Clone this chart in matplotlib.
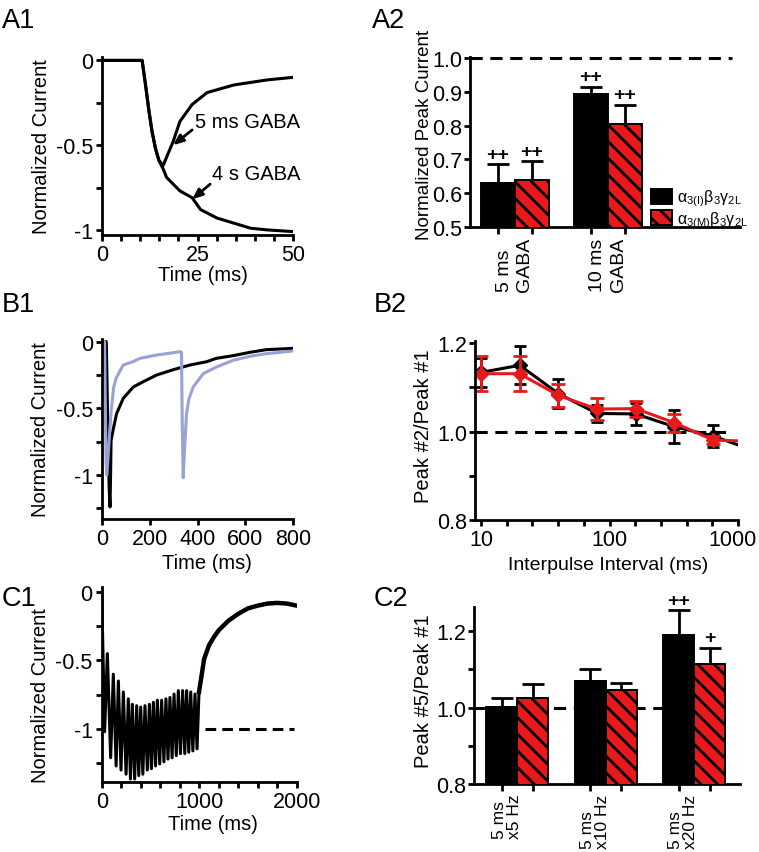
import matplotlib.pyplot as plt
from matplotlib.ticker import FixedLocator, NullFormatter, FixedFormatter
import matplotlib.transforms as mtransforms

plt.rcParams['font.family'] = ['Liberation Sans', 'DejaVu Sans']
plt.rcParams['axes.unicode_minus'] = False
plt.rcParams['mathtext.default'] = 'regular'
plt.rcParams['hatch.linewidth'] = 2.0
plt.rcParams['hatch.color'] = 'black'

# ── Data ─────────────────────────────────────────────────────────────────────
# A1: normalized current traces (ms, current)
a1_t_4s = [0, 10.5, 11.4, 12.3, 13.1, 14.0, 14.9, 16.0, 16.9, 20.4, 23.6, 25.8,
           30.1, 34.5, 38.9, 43.3, 50]
a1_i_4s = [0, 0, -0.145, -0.30, -0.42, -0.52, -0.59, -0.64, -0.69, -0.77, -0.81,
           -0.88, -0.93, -0.96, -0.99, -1.0, -1.01]
a1_t_5ms = [0, 10.5, 11.4, 12.3, 13.1, 14.0, 14.9, 16.0, 18.6, 20.4, 23.6, 27.5,
            34.5, 43.3, 50]
a1_i_5ms = [0, 0, -0.145, -0.30, -0.42, -0.52, -0.59, -0.62, -0.48, -0.36, -0.26,
            -0.19, -0.145, -0.115, -0.10]

# A2: normalized peak current
a2_groups = ['5 ms\nGABA', '10 ms\nGABA']
a2_i = [0.63, 0.895]
a2_i_err = [0.055, 0.02]
a2_m = [0.64, 0.805]
a2_m_err = [0.055, 0.057]
a2_i_sig = ['++', '++']
a2_m_sig = ['++', '++']

# B1: paired-pulse traces
b1_t_black = [0, 18, 24, 30, 33.5, 36, 38, 49, 61, 89, 131, 173, 229, 299, 369,
              439, 479, 549, 619, 688, 800]
b1_i_black = [0, 0, -0.6, -1.1, -1.24, -1.0, -0.74, -0.64, -0.54, -0.425, -0.34,
              -0.30, -0.25, -0.21, -0.175, -0.15, -0.125, -0.105, -0.08, -0.06, -0.05]
b1_t_blue = [0, 11, 14, 17, 20, 26, 32, 38, 49, 60, 89, 130, 159, 229, 290, 326,
             333, 336, 340, 346, 354, 364, 382, 424, 479, 549, 619, 688, 800]
b1_i_blue = [0, 0, -0.5, -0.9, -1.0, -0.85, -0.68, -0.53, -0.34, -0.27, -0.175,
             -0.15, -0.125, -0.10, -0.085, -0.075, -0.08, -0.6, -1.02, -0.8, -0.54,
             -0.43, -0.34, -0.24, -0.19, -0.14, -0.11, -0.09, -0.07]

# B2: paired-pulse ratio vs interpulse interval
b2_ipi = [10, 20, 40, 80, 160, 320, 640]
b2_i = [1.134, 1.15, 1.086, 1.041, 1.04, 1.011, 0.99]
b2_i_err = [0.033, 0.043, 0.032, 0.02, 0.024, 0.037, 0.025]
b2_m = [1.131, 1.131, 1.082, 1.051, 1.052, 1.02, 0.981]
b2_m_err = [0.04, 0.039, 0.026, 0.025, 0.018, 0.02, 0.01]
b2_end_ipi = 1000
b2_i_end = 0.97
b2_m_end = 0.979

# C1: pulse-train trace
c1_peak_t = [58, 119, 171, 222, 273, 314, 359, 400, 444, 489, 530, 571, 615, 659,
             700, 742, 786, 830, 871, 913, 957, 998]
c1_peak = [-0.45, -0.60, -0.65, -0.73, -0.78, -0.82, -0.83, -0.84, -0.83, -0.82,
           -0.805, -0.79, -0.79, -0.78, -0.77, -0.745, -0.72, -0.72, -0.72, -0.73,
           -0.745, -0.73]
c1_trough_t = [30, 92, 148, 198, 250, 295, 338, 380, 422, 468, 510, 552, 595, 638,
               680, 722, 765, 808, 852, 893, 935, 978]
c1_trough = [-1.02, -1.21, -1.27, -1.30, -1.33, -1.365, -1.365, -1.34, -1.33, -1.30,
             -1.29, -1.27, -1.255, -1.24, -1.22, -1.21, -1.195, -1.18, -1.18, -1.17,
             -1.16, -1.145]
c1_tail_t = [1030, 1050, 1100, 1150, 1200, 1300, 1400, 1500, 1600, 1700, 1800,
             1900, 2000]
c1_tail = [-0.585, -0.49, -0.39, -0.33, -0.28, -0.21, -0.16, -0.12, -0.10, -0.085,
           -0.08, -0.085, -0.10]
c1_ref = -1.0
c1_ref_span = [1062, 1969]

# C2: peak #5 / peak #1
c2_groups = ['5 ms\nx5 Hz', '5 ms\nx10 Hz', '5 ms\nx20 Hz']
c2_i = [1.002, 1.07, 1.19]
c2_i_err = [0.022, 0.032, 0.064]
c2_m = [1.026, 1.045, 1.115]
c2_m_err = [0.035, 0.02, 0.042]
c2_i_sig = ['', '', '++']
c2_m_sig = ['', '', '+']

RED = '#e8191b'
BLUE = '#98a2d6'
FIG_W, FIG_H = 759, 853
LW = 2.0
TICK_FS = 15.5
LABEL_FS = 14.5


def add_ax(fig, left, top, right, bottom):
    """Axes from pixel box (left, top, right, bottom)."""
    return fig.add_axes([left / FIG_W, 1 - bottom / FIG_H,
                         (right - left) / FIG_W, (bottom - top) / FIG_H])


def style(ax):
    for s in ('top', 'right'):
        ax.spines[s].set_visible(False)
    for s in ('left', 'bottom'):
        ax.spines[s].set_linewidth(LW)
    ax.tick_params(which='both', direction='out', length=4.5, width=LW,
                   labelsize=TICK_FS, pad=2)


def panel_label(fig, x, y, s):
    fig.text(x / FIG_W, 1 - y / FIG_H, s, fontsize=19.5, va='top', ha='left')


def bar_panel(ax, groups, vi, ei, vm, em, si, sm, spacing, lab_shift, linesp, lab_fs):
    gx = [k * spacing for k in range(len(groups))]
    xi = [g - 0.5 for g in gx]
    xm = [g + 0.5 for g in gx]
    ax.bar(xi, vi, width=1.0, color='black', edgecolor='black', lw=1.4,
           label=r'α$_{3(I)}$β$_3$γ$_{2L}$', zorder=3)
    ax.bar(xm, vm, width=1.0, color=RED, edgecolor='black', lw=1.4,
           hatch='\\\\', label=r'α$_{3(M)}$β$_3$γ$_{2L}$', zorder=3)
    ax.errorbar(xi, vi, yerr=[[0] * len(vi), ei], fmt='none', ecolor='black',
                elinewidth=LW, capsize=8, capthick=LW, zorder=2)
    ax.errorbar(xm, vm, yerr=[[0] * len(vm), em], fmt='none', ecolor='black',
                elinewidth=LW, capsize=8, capthick=LW, zorder=2)
    for x, v, e, s in zip(xi + xm, vi + vm, ei + em, si + sm):
        if s:
            ax.text(x, v + e + 0.004, s, ha='center', va='bottom', fontsize=14,
                    fontweight='bold', clip_on=False)
    ax.set_xticks(xi + xm)
    ax.set_xticklabels([])
    ax.tick_params(axis='x', length=5)
    trans = mtransforms.blended_transform_factory(ax.transData, ax.transAxes)
    for g, lab in zip(gx, groups):
        ax.text(g + lab_shift, -0.055, lab, transform=trans, rotation=90,
                ha='center', va='top', multialignment='left', fontsize=lab_fs,
                linespacing=linesp)


fig = plt.figure(figsize=(FIG_W / 100, FIG_H / 100), dpi=100)

# ── A1 ───────────────────────────────────────────────────────────────────────
ax = add_ax(fig, 102, 58, 293, 236)
style(ax)
ax.plot(a1_t_4s, a1_i_4s, color='black', lw=2.2)
ax.plot(a1_t_5ms, a1_i_5ms, color='black', lw=2.2)
ax.set_xlim(0, 50)
ax.set_ylim(-1.03, 0.02)
ax.xaxis.set_major_locator(FixedLocator([0, 25, 50]))
ax.xaxis.set_minor_locator(FixedLocator([5, 10, 15, 20, 30, 35, 40, 45]))
ax.yaxis.set_major_locator(FixedLocator([0, -0.5, -1]))
ax.yaxis.set_major_formatter(FixedFormatter(['0', '-0.5', '-1']))
ax.yaxis.set_minor_locator(FixedLocator([-0.25, -0.75]))
arrow = dict(arrowstyle='-|>,head_length=0.6,head_width=0.25', color='black',
             lw=2.0, shrinkA=0, shrinkB=0)
ax.annotate('', xy=(18.6, -0.50), xytext=(23.6, -0.41), arrowprops=arrow)
ax.text(24.3, -0.36, '5 ms GABA', fontsize=14.5, va='center', ha='left')
ax.annotate('', xy=(23.6, -0.82), xytext=(28.3, -0.73), arrowprops=arrow)
ax.text(28.8, -0.67, '4 s GABA', fontsize=14.5, va='center', ha='left')
ax.set_xlabel('Time (ms)', fontsize=LABEL_FS)
ax.set_ylabel('Normalized Current', fontsize=LABEL_FS)
ax.xaxis.set_label_coords(0.53, -0.17)
ax.yaxis.set_label_coords(-0.265, 0.5)
panel_label(fig, 2, 8, 'A1')

# ── A2 ───────────────────────────────────────────────────────────────────────
ax = add_ax(fig, 470, 58, 740, 228)
style(ax)
ax.axhline(1.0, xmin=0, xmax=0.97, color='black', lw=2.2, ls=(0, (4, 2.5)), zorder=1)
bar_panel(ax, a2_groups, a2_i, a2_i_err, a2_m, a2_m_err, a2_i_sig, a2_m_sig,
          spacing=2.74, lab_shift=0.0, linesp=1.3, lab_fs=14)
ax.set_xlim(-1.31, 6.63)
ax.set_ylim(0.5, 1.003)
ax.yaxis.set_major_locator(FixedLocator([0.5, 0.6, 0.7, 0.8, 0.9, 1.0]))
ax.yaxis.set_major_formatter(FixedFormatter(['0.5', '0.6', '0.7', '0.8', '0.9', '1.0']))
ax.tick_params(axis='y', pad=1)
ax.set_ylabel('Normalized Peak Current', fontsize=13.5)
ax.yaxis.set_label_coords(-0.137, 0.55)
ax.legend(loc='upper left', bbox_to_anchor=(0.672, 0.23), frameon=False,
          fontsize=11.5, handlelength=1.3, handleheight=1.1, labelspacing=0.05,
          handletextpad=0.3, borderpad=0, borderaxespad=0)
panel_label(fig, 372, 8, 'A2')

# ── B1 ───────────────────────────────────────────────────────────────────────
ax = add_ax(fig, 102, 340, 293, 520)
style(ax)
ax.plot(b1_t_black, b1_i_black, color='black', lw=2.2)
ax.plot(b1_t_blue, b1_i_blue, color=BLUE, lw=2.2)
ax.set_xlim(0, 800)
ax.set_ylim(-1.33, 0.02)
ax.xaxis.set_major_locator(FixedLocator([0, 200, 400, 600, 800]))
ax.yaxis.set_major_locator(FixedLocator([0, -0.5, -1]))
ax.yaxis.set_major_formatter(FixedFormatter(['0', '-0.5', '-1']))
ax.yaxis.set_minor_locator(FixedLocator([-0.25, -0.75, -1.25]))
ax.set_xlabel('Time (ms)', fontsize=LABEL_FS)
ax.set_ylabel('Normalized Current', fontsize=LABEL_FS)
ax.xaxis.set_label_coords(0.55, -0.19)
ax.yaxis.set_label_coords(-0.27, 0.5)
panel_label(fig, 2, 292, 'B1')

# ── B2 ───────────────────────────────────────────────────────────────────────
ax = add_ax(fig, 475, 342, 738, 521)
style(ax)
ax.set_xscale('log')
ax.axhline(1.0, xmin=0, xmax=0.976, color='black', lw=2.2, ls=(0, (4, 2.5)), zorder=1)
ax.errorbar(b2_ipi, b2_i, yerr=b2_i_err, fmt='none', ecolor='black',
            elinewidth=LW, capsize=4.5, capthick=LW)
ax.plot(b2_ipi + [b2_end_ipi], b2_i + [b2_i_end], color='black', lw=2.2,
        marker='D', ms=7, markevery=list(range(len(b2_ipi))))
ax.errorbar(b2_ipi, b2_m, yerr=b2_m_err, fmt='none', ecolor=RED,
            elinewidth=LW, capsize=5, capthick=LW)
ax.plot(b2_ipi + [b2_end_ipi], b2_m + [b2_m_end], color=RED, lw=2.2,
        marker='D', ms=7, markevery=list(range(len(b2_ipi))))
ax.set_xlim(8.98, 1000)
ax.set_ylim(0.8, 1.205)
ax.xaxis.set_major_locator(FixedLocator([10, 100, 1000]))
ax.xaxis.set_major_formatter(FixedFormatter(['10', '100', '1000']))
ax.xaxis.set_minor_locator(FixedLocator([15.85, 25.12, 39.81, 63.10,
                                         158.5, 251.2, 398.1, 631.0]))
ax.xaxis.set_minor_formatter(NullFormatter())
ax.yaxis.set_major_locator(FixedLocator([0.8, 1.0, 1.2]))
ax.yaxis.set_major_formatter(FixedFormatter(['0.8', '1.0', '1.2']))
ax.yaxis.set_minor_locator(FixedLocator([0.9, 1.1]))
ax.tick_params(axis='y', pad=1)
# keep the last tick label inside the figure edge
fig.canvas.draw()
last = ax.get_xticklabels()[-1]
last.set_transform(last.get_transform() +
                   mtransforms.ScaledTranslation(-5 / 100, 0, fig.dpi_scale_trans))
ax.set_xlabel('Interpulse Interval (ms)', fontsize=14)
ax.set_ylabel('Peak #2/Peak #1', fontsize=LABEL_FS)
ax.xaxis.set_label_coords(0.506, -0.2)
ax.yaxis.set_label_coords(-0.16, 0.53)
panel_label(fig, 374, 292, 'B2')

# ── C1 ───────────────────────────────────────────────────────────────────────
ax = add_ax(fig, 101.7, 588, 296.7, 783)
style(ax)
c1_t = [0]
c1_i = [0.0]
for tt, tv, pt, pv in zip(c1_trough_t, c1_trough, c1_peak_t, c1_peak):
    c1_t += [tt, pt]
    c1_i += [tv, pv]
ax.plot(c1_t, c1_i, color='black', lw=2.2)
ax.plot(c1_peak_t[-1:] + c1_tail_t, c1_peak[-1:] + c1_tail, color='black', lw=3.2)
ax.hlines(c1_ref, c1_ref_span[0], c1_ref_span[1], color='black', lw=2.2,
          ls=(0, (3.5, 2)))
ax.set_xlim(0, 2000)
ax.set_ylim(-1.387, 0.036)
ax.xaxis.set_major_locator(FixedLocator([0, 1000, 2000]))
ax.xaxis.set_minor_locator(FixedLocator([200, 400, 600, 800, 1200, 1400, 1600, 1800]))
ax.yaxis.set_major_locator(FixedLocator([0, -0.5, -1]))
ax.yaxis.set_major_formatter(FixedFormatter(['0', '-0.5', '-1']))
ax.yaxis.set_minor_locator(FixedLocator([-0.25, -0.75, -1.25]))
ax.set_xlabel('Time (ms)', fontsize=LABEL_FS)
ax.set_ylabel('Normalized Current', fontsize=LABEL_FS)
ax.xaxis.set_label_coords(0.57, -0.165)
ax.yaxis.set_label_coords(-0.265, 0.45)
panel_label(fig, 2, 586, 'C1')

# ── C2 ───────────────────────────────────────────────────────────────────────
ax = add_ax(fig, 474, 608, 740, 785)
style(ax)
ax.axhline(1.0, xmin=0, xmax=0.962, color='black', lw=2.2, ls=(0, (4, 2.5)), zorder=1)
bar_panel(ax, c2_groups, c2_i, c2_i_err, c2_m, c2_m_err, c2_i_sig, c2_m_sig,
          spacing=2.85, lab_shift=-0.35, linesp=1.0, lab_fs=12.5)
ax.set_xlim(-1.40, 7.18)
ax.set_ylim(0.8, 1.263)
ax.yaxis.set_major_locator(FixedLocator([0.8, 1.0, 1.2]))
ax.yaxis.set_major_formatter(FixedFormatter(['0.8', '1.0', '1.2']))
ax.yaxis.set_minor_locator(FixedLocator([0.9, 1.1]))
ax.tick_params(axis='y', pad=1)
ax.set_ylabel('Peak #5/Peak #1', fontsize=LABEL_FS)
ax.yaxis.set_label_coords(-0.154, 0.53)
panel_label(fig, 374, 586, 'C2')

fig.savefig('out.png', dpi=100)
